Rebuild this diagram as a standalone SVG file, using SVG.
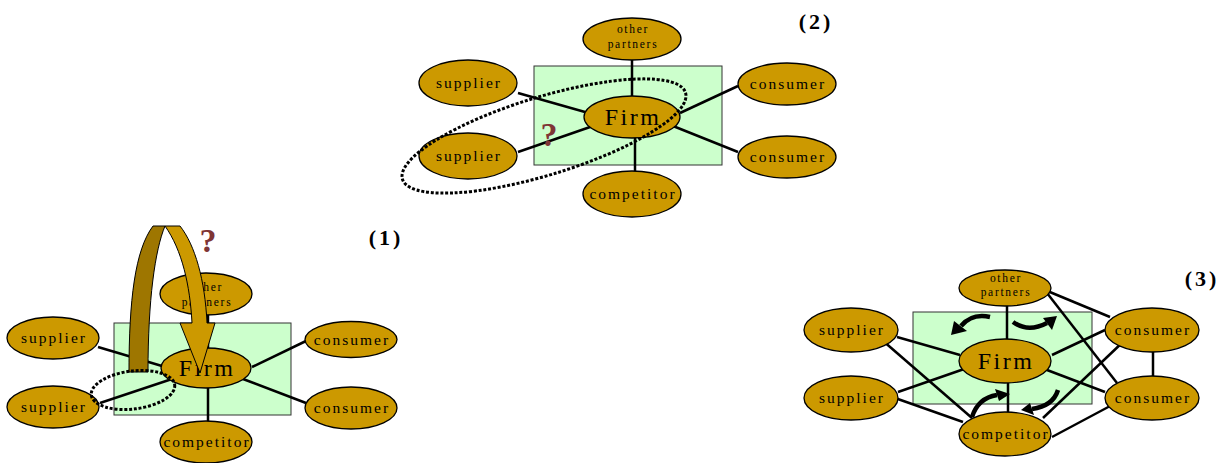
<svg xmlns="http://www.w3.org/2000/svg" width="1226" height="463" viewBox="0 0 1226 463">
<style>
.bg{fill:#ffffff}
.box{fill:#CCFFCC;stroke:#333333;stroke-width:1}
.node ellipse{fill:#CC9900;stroke:#000000;stroke-width:1.3}
.t{font-family:"Liberation Serif","Times New Roman",serif;fill:#000000;text-anchor:middle}
.lab{font-size:15.5px;letter-spacing:2px}
.firm{font-size:24px;letter-spacing:2.5px}
.oth{font-size:11.5px;letter-spacing:1.7px}
.num{font-family:"Liberation Serif","Times New Roman",serif;font-weight:bold;font-size:22px;letter-spacing:3px;fill:#000}
.q{font-family:"Liberation Serif","Times New Roman",serif;font-weight:bold;font-size:34px;fill:#7F3535}
.edge line{stroke:#000;stroke-width:2.5}
.dot{fill:none;stroke:#000;stroke-width:3;stroke-dasharray:3 1.8}
.dark{fill:#9E7600;stroke:#000;stroke-width:1}
.light{fill:#CC9900;stroke:#000;stroke-width:1}
.cv{fill:none;stroke:#000;stroke-width:4.5}
.hd{fill:#000}
</style>
<rect class="bg" x="0" y="0" width="1226" height="463"/>

<!-- ================= Diagram (1) ================= -->
<rect class="box" x="114" y="323" width="177" height="92"/>
<g id="edges1" class="edge">
  <line x1="98" y1="347" x2="162" y2="366"/>
  <line x1="100" y1="403" x2="172" y2="379"/>
  <line x1="252" y1="367" x2="306" y2="341"/>
  <line x1="243" y1="379" x2="306" y2="403"/>
  <line x1="208" y1="388" x2="208" y2="422"/>
  <line x1="208" y1="314" x2="208" y2="348"/>
</g>
<g id="n1-supplier1" class="node"><ellipse cx="53" cy="338" rx="46" ry="21"/><text class="t lab" x="54" y="343">supplier</text></g>
<g id="n1-supplier2" class="node"><ellipse cx="53" cy="407" rx="46" ry="21"/><text class="t lab" x="54" y="412">supplier</text></g>
<g id="n1-other" class="node"><ellipse cx="206" cy="294" rx="46" ry="21"/><text class="t oth" x="207" y="291">other</text><text class="t oth" x="207" y="306">partners</text></g>
<g id="n1-firm" class="node"><ellipse cx="206" cy="368" rx="45" ry="20"/><text class="t firm" x="207" y="376">Firm</text></g>
<g id="n1-consumer1" class="node"><ellipse cx="351" cy="339.5" rx="46" ry="18"/><text class="t lab" x="352" y="345">consumer</text></g>
<g id="n1-consumer2" class="node"><ellipse cx="351" cy="408" rx="46" ry="21"/><text class="t lab" x="352" y="413">consumer</text></g>
<g id="n1-competitor" class="node"><ellipse cx="206" cy="442" rx="46" ry="21"/><text class="t lab" x="207" y="447">competitor</text></g>
<g id="arrow1">
  <path class="dark" d="M129,372 C129,300 135,250 153,226 L165,226 C155,250 148,300 148,372 Z"/>
  <path class="light" d="M165,226 L180,226 C195,245 205,280 207,323 L215,323 L200,373 L180,323 L192,323 C190,285 182,250 165,226 Z"/>
</g>
<ellipse class="dot" cx="133" cy="390" rx="42" ry="19" transform="rotate(-7 133 390)"/>
<text class="q" x="208" y="252" text-anchor="middle">?</text>
<text class="num" x="386" y="245" text-anchor="middle">(1)</text>

<!-- ================= Diagram (2) ================= -->
<rect class="box" x="534" y="66" width="188" height="99"/>
<g id="edges2" class="edge">
  <line x1="632" y1="60" x2="632" y2="97"/>
  <line x1="518" y1="93" x2="585" y2="112"/>
  <line x1="518" y1="152" x2="593" y2="126"/>
  <line x1="738" y1="86" x2="680" y2="113"/>
  <line x1="738" y1="152" x2="673" y2="126"/>
  <line x1="635" y1="137" x2="635" y2="172"/>
</g>
<g id="n2-other" class="node"><ellipse cx="632" cy="39" rx="49" ry="21"/><text class="t oth" x="633" y="33">other</text><text class="t oth" x="633" y="48">partners</text></g>
<g id="n2-supplier1" class="node"><ellipse cx="468" cy="83" rx="49" ry="23"/><text class="t lab" x="469" y="88">supplier</text></g>
<g id="n2-supplier2" class="node"><ellipse cx="468" cy="156" rx="49" ry="23"/><text class="t lab" x="469" y="161">supplier</text></g>
<g id="n2-firm" class="node"><ellipse cx="632" cy="117" rx="48" ry="21"/><text class="t firm" x="633" y="125">Firm</text></g>
<g id="n2-consumer1" class="node"><ellipse cx="787" cy="84" rx="49" ry="21"/><text class="t lab" x="788" y="89">consumer</text></g>
<g id="n2-consumer2" class="node"><ellipse cx="787" cy="157" rx="49" ry="21"/><text class="t lab" x="788" y="162">consumer</text></g>
<g id="n2-competitor" class="node"><ellipse cx="632" cy="194" rx="49" ry="23"/><text class="t lab" x="633" y="199">competitor</text></g>
<ellipse class="dot" cx="544" cy="136" rx="148" ry="39" transform="rotate(-17 544 136)"/>
<text class="q" x="549" y="146" text-anchor="middle">?</text>
<text class="num" x="816" y="29" text-anchor="middle">(2)</text>

<!-- ================= Diagram (3) ================= -->
<rect class="box" x="913" y="312" width="179" height="92"/>
<g id="edges3" class="edge">
  <line x1="1007" y1="305" x2="1007" y2="339"/>
  <line x1="897" y1="337" x2="960" y2="355"/>
  <line x1="898" y1="392" x2="967" y2="368"/>
  <line x1="1105" y1="330" x2="1052" y2="355"/>
  <line x1="1105" y1="392" x2="1047" y2="370"/>
  <line x1="1008" y1="383" x2="1008" y2="412"/>
  <line x1="882" y1="340" x2="972" y2="418"/>
  <line x1="895" y1="398" x2="963" y2="422"/>
  <line x1="1045" y1="290" x2="1110" y2="317"/>
  <line x1="1047" y1="293" x2="1117" y2="383"/>
  <line x1="1125" y1="340" x2="1043" y2="418"/>
  <line x1="1112" y1="405" x2="1052" y2="437"/>
  <line x1="1153" y1="352" x2="1153" y2="376"/>
</g>
<g id="n3-other" class="node"><ellipse cx="1005" cy="288" rx="46" ry="18"/><text class="t oth" x="1006" y="282">other</text><text class="t oth" x="1006" y="296">partners</text></g>
<g id="n3-supplier1" class="node"><ellipse cx="851" cy="330" rx="47" ry="22"/><text class="t lab" x="852" y="335">supplier</text></g>
<g id="n3-supplier2" class="node"><ellipse cx="851" cy="398" rx="47" ry="22"/><text class="t lab" x="852" y="403">supplier</text></g>
<g id="n3-firm" class="node"><ellipse cx="1005" cy="361" rx="46" ry="22"/><text class="t firm" x="1006" y="369">Firm</text></g>
<g id="n3-consumer1" class="node"><ellipse cx="1152" cy="330" rx="47" ry="22"/><text class="t lab" x="1153" y="335">consumer</text></g>
<g id="n3-consumer2" class="node"><ellipse cx="1152" cy="398" rx="47" ry="22"/><text class="t lab" x="1153" y="403">consumer</text></g>
<g id="n3-competitor" class="node"><ellipse cx="1005" cy="434" rx="46" ry="22"/><text class="t lab" x="1006" y="439">competitor</text></g>
<g id="curved-arrows">
  <path class="cv" d="M990,317 Q972,313 961,326"/>
  <polygon class="hd" points="954,321 967,331 951,335"/>
  <path class="cv" d="M1013,322 Q1028,333 1047,323"/>
  <polygon class="hd" points="1043,318 1052,330 1057,316"/>
  <path class="cv" d="M972,417 Q978,398 997,395"/>
  <polygon class="hd" points="995,389 999,401 1010,394"/>
  <path class="cv" d="M1058,390 Q1053,406 1032,409"/>
  <polygon class="hd" points="1030,403 1034,415 1021,410"/>
</g>
<text class="num" x="1202" y="286" text-anchor="middle">(3)</text>
</svg>
